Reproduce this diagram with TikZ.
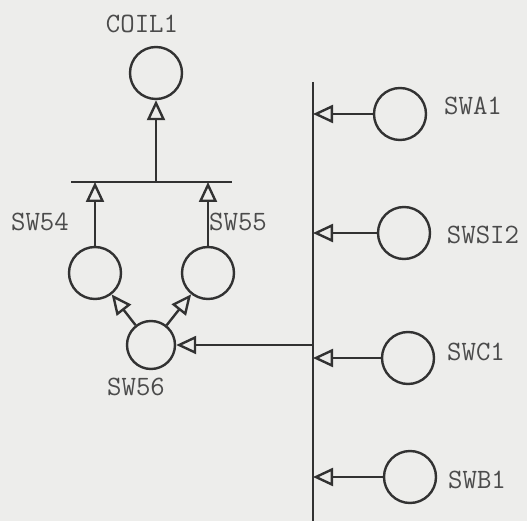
\documentclass[tikz,border=0pt]{standalone}
\usetikzlibrary{arrows.meta}
\definecolor{bg}{RGB}{237,237,235}
\definecolor{ink}{RGB}{50,50,50}
\definecolor{txt}{RGB}{75,75,75}
\begin{document}
\begin{tikzpicture}[x=1pt,y=-1pt,
 gate/.style={circle,draw=ink,line width=2.4pt,minimum size=52pt,inner sep=0pt},
 lbl/.style={text=txt,font=\fontsize{28}{30}\selectfont\ttfamily,inner sep=0pt},
 wire/.style={draw=ink,line width=2.4pt},
 arr/.style={wire,-{Triangle[open,length=20pt,width=18pt]}}]
\fill[bg] (0,0) rectangle (527,521);
\useasboundingbox (0,0) rectangle (527,521);
% left group
\node[gate] (coil) at (156,73) {};
\node[lbl] (lcoil) at (142,24) {COIL1};
\coordinate (barL) at (71,182);
\coordinate (barR) at (232,182);
\coordinate (barM) at (156,182);
\draw[wire] (barL) -- (barR);
\draw[arr] (barM) -- (coil);
\node[gate] (sw54) at (95,273) {};
\node[gate] (sw55) at (208,273) {};
\node[gate,minimum size=48pt] (sw56) at (151,345) {};
\node[lbl] (l54) at (40,222) {SW54};
\node[lbl] (l55) at (238,222) {SW55};
\node[lbl] (l56) at (136,387) {SW56};
\draw[arr] (sw54) -- (sw54 |- barL);
\draw[arr] (sw55) -- (sw55 |- barL);
\draw[arr] (sw56) -- (sw54);
\draw[arr] (sw56) -- (sw55);
% bus
\coordinate (busT) at (313,82);
\coordinate (busB) at (313,521);
\draw[wire] (busT) -- (busB);
\draw[arr] (sw56 -| busT) -- (sw56);
% right group
\node[gate] (swa1) at (400,114) {};
\node[gate] (swsi2) at (404,233) {};
\node[gate] (swc1) at (408,358) {};
\node[gate] (swb1) at (410,477) {};
\node[lbl] (la1) at (473,106) {SWA1};
\node[lbl] (lsi2) at (483,235) {SWSI2};
\node[lbl] (lc1) at (476,352) {SWC1};
\node[lbl] (lb1) at (477,480) {SWB1};
\draw[arr] (swa1) -- (swa1 -| busT);
\draw[arr] (swsi2) -- (swsi2 -| busT);
\draw[arr] (swc1) -- (swc1 -| busT);
\draw[arr] (swb1) -- (swb1 -| busT);
\end{tikzpicture}
\end{document}
